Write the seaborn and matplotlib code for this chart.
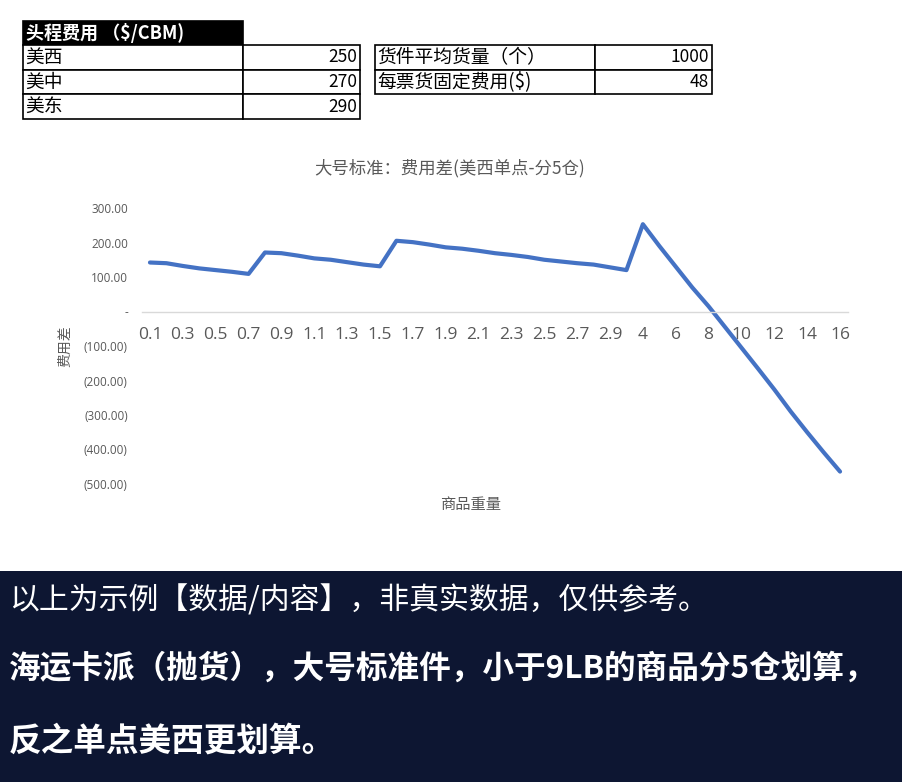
import numpy as np
import pandas as pd
import matplotlib
matplotlib.use("Agg")
import matplotlib.pyplot as plt
from matplotlib.patches import Rectangle
import seaborn as sns

# weight categories (LB) and cost difference (single point US West minus 5-warehouse split)
weights = ["0.1", "0.2", "0.3", "0.4", "0.5", "0.6", "0.7", "0.8", "0.9", "1.0",
           "1.1", "1.2", "1.3", "1.4", "1.5", "1.6", "1.7", "1.8", "1.9", "2.0",
           "2.1", "2.2", "2.3", "2.4", "2.5", "2.6", "2.7", "2.8", "2.9", "3.0",
           "4", "5", "6", "7", "8", "9", "10", "11", "12", "13", "14", "15", "16"]
cost_diff = [142, 140, 132, 125, 120, 115, 109,
             171, 169, 162, 154, 150, 143, 136, 131,
             205, 201, 194, 186, 182, 176, 169, 164, 158, 150, 145, 140, 136, 128, 120,
             253, 190, 130, 70, 15, -45, -105, -165, -226, -290, -350, -408, -464]

# freight table (left) and parameter table (right)
freight_title = "头程费用 （$/CBM)"
freight_regions = ["美西", "美中", "美东"]
freight_rates = [250, 270, 290]
param_names = ["货件平均货量（个）", "每票货固定费用($)"]
param_values = [1000, 48]

note_lines = ["以上为示例【数据/内容】，非真实数据，仅供参考。",
              "海运卡派（抛货），大号标准件，小于9LB的商品分5仓划算，",
              "反之单点美西更划算。"]

sns.set_theme(style="white")
plt.rcParams["font.family"] = ["Noto Sans CJK SC", "DejaVu Sans"]

W, H = 902, 782
fig = plt.figure(figsize=(W / 100, H / 100), dpi=100)


def fx(px):
    return px / W


def fy(py):
    return 1 - py / H


def cell(x0, y0, x1, y1, face="white"):
    fig.add_artist(Rectangle((fx(x0), fy(y1)), fx(x1) - fx(x0), fy(y0) - fy(y1),
                             transform=fig.transFigure, facecolor=face,
                             edgecolor="black", linewidth=1.2))


# left table
cell(23, 21, 243, 45, face="black")
fig.text(fx(26), fy(33), freight_title, color="white", fontsize=13,
         fontweight="bold", va="center", ha="left")
row_h = 24.7
for k, (reg, rate) in enumerate(zip(freight_regions, freight_rates)):
    y0 = 45 + k * row_h
    cell(23, y0, 243, y0 + row_h)
    cell(243, y0, 360, y0 + row_h)
    fig.text(fx(25), fy(y0 + row_h / 2), reg, fontsize=13.5, va="center", color="black")
    fig.text(fx(357), fy(y0 + row_h / 2), str(rate), fontsize=12.5, va="center",
             ha="right", color="black")

# right table
for k, (name, val) in enumerate(zip(param_names, param_values)):
    y0 = 45 + k * row_h
    cell(375, y0, 595, y0 + row_h)
    cell(595, y0, 712, y0 + row_h)
    fig.text(fx(377), fy(y0 + row_h / 2), name, fontsize=13.5, va="center", color="black")
    fig.text(fx(709), fy(y0 + row_h / 2), str(val), fontsize=12.5, va="center",
             ha="right", color="black")

# chart
ax = fig.add_axes([fx(141.75), fy(484), fx(848.25) - fx(141.75), fy(208) - fy(484)])
df = pd.DataFrame({"pos": np.arange(len(weights)), "diff": cost_diff})
sns.lineplot(data=df, x="pos", y="diff", ax=ax, color="#4472C4", linewidth=3.0,
             sort=False)
ax.set_xlim(-0.5, len(weights) - 0.5)
ax.set_ylim(-500, 300)

yt = np.arange(-500, 301, 100)
ylabels = ["-" if v == 0 else (f"({abs(v):.2f})" if v < 0 else f"{v:.2f}") for v in yt]
ax.set_yticks(yt)
ax.set_yticklabels(ylabels)
ax.tick_params(axis="y", length=0, pad=10, labelsize=8.5, labelcolor="#595959",
               labelfontfamily="Open Sans")

xt = np.arange(0, len(weights), 2)
ax.set_xticks(xt)
ax.set_xticklabels([weights[i] for i in xt])
ax.tick_params(axis="x", length=0, pad=11, labelsize=12.5, labelcolor="#595959",
               labelfontfamily="Open Sans")

for s in ["top", "right", "left"]:
    ax.spines[s].set_visible(False)
ax.spines["bottom"].set_position(("data", 0))
ax.spines["bottom"].set_color("#D9D9D9")
ax.spines["bottom"].set_linewidth(1.0)

ax.set_xlabel("")
ax.set_ylabel("")
fig.text(fx(450), fy(168), "大号标准：费用差(美西单点-分5仓)", fontsize=12.5,
         color="#595959", ha="center", va="center")
fig.text(fx(65), fy(346), "费用差", fontsize=10, color="#595959", rotation=90,
         ha="center", va="center")
fig.text(fx(471), fy(505), "商品重量", fontsize=11, color="#595959",
         ha="center", va="center")

# note band
fig.add_artist(Rectangle((0, 0), 1, fy(571), transform=fig.transFigure,
                         facecolor="#0d1632", edgecolor="none"))
fig.text(fx(9), fy(601), note_lines[0], fontsize=21.5, color="white", va="center")
fig.text(fx(9), fy(669), note_lines[1], fontsize=22.8, color="white", va="center",
         fontweight="bold")
fig.text(fx(9), fy(741), note_lines[2], fontsize=23.5, color="white", va="center",
         fontweight="bold")

fig.savefig("out.png", dpi=100)
